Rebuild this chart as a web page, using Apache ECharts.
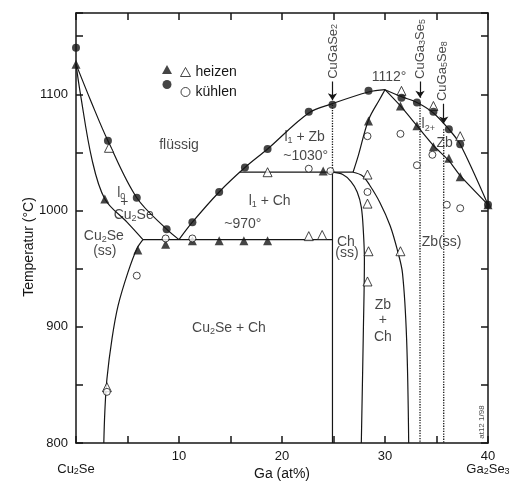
<!DOCTYPE html>
<html>
<head>
<meta charset="utf-8">
<script src="https://cdn.jsdelivr.net/npm/echarts@6/dist/echarts.min.js"></script>
<style>
html,body{margin:0;padding:0;background:#fff;}
#chart{width:510px;height:492px;}
</style>
</head>
<body>
<div id="chart"></div>
<script>
// ---------- data (Ga at%, temperature °C) ----------
const heizenFilled = [[0,1126],[2.8,1010],[6.0,966],[8.7,971],[11.3,974],[13.9,974],[16.3,974],[18.6,974],[24.0,1034],[28.4,1077],[31.5,1090],[33.1,1073],[34.7,1055],[36.2,1045],[37.3,1029],[40,1005]];
const heizenOpen = [[3.2,1054],[3.0,848],[18.6,1033],[22.6,978],[23.9,979],[28.3,1031],[28.3,1006],[28.4,965],[28.3,939],[31.5,965],[31.6,1103],[34.7,1090],[37.3,1064]];
const kuehlenFilled = [[0,1140],[3.1,1060],[5.9,1011],[8.8,984],[11.3,990],[13.9,1016],[16.4,1037],[18.6,1053],[22.6,1085],[24.9,1091],[28.4,1103],[31.6,1097],[33.1,1093],[34.7,1085],[36.2,1070],[37.3,1057],[40,1005]];
const kuehlenOpen = [[8.7,976],[11.3,976],[5.9,944],[3.0,844],[22.6,1036],[24.7,1034],[28.3,1016],[28.3,1064],[31.5,1066],[33.1,1039],[34.6,1048],[36.0,1005],[37.3,1002]];

// phase boundaries
const liquidusLeft = [[0,1126],[1.5,1093],[3.1,1060],[5.9,1011],[8.8,984],[10.0,975]];
const solidusLeft = [[0,1126],[0.4,1102],[1.55,1044],[2.8,1010],[4.95,990],[6.5,975]];
const solvusCu2Se = [[6.5,975],[5.9,967],[5.05,947],[4.08,918],[3.5,890],[3.0,855],[2.8,827],[2.7,800]];
const eutecticLine = [[6.5,975],[24.9,975]];
const liquidusRising = [[10.0,975],[11.3,990],[13.9,1016],[16.4,1037],[18.6,1053],[22.6,1084],[24.9,1092],[28.4,1102],[30.0,1104]];
const liquidusRight = [[30.0,1104],[31.6,1098],[33.1,1093],[34.7,1084],[36.2,1070],[37.3,1057],[40,1005]];
const solidusRight = [[30.0,1104],[31.5,1090],[33.1,1073],[34.7,1056],[36.2,1043],[37.3,1030],[40,1005]];
const zbLeftUpper = [[26.9,1033],[27.4,1047],[28.4,1078],[29.5,1096],[30.0,1104]];
const peritecticLine = [[15.9,1033],[26.9,1033]];
const chVertical = [[24.9,1033],[24.9,800]];
const chRight = [[24.9,1033],[25.9,1031],[26.7,1025],[27.3,1016],[27.7,1003],[27.9,982],[28.0,958],[27.9,897],[27.7,800]];
const zbLeft = [[26.9,1033],[27.8,1030],[28.5,1022],[29.5,1007],[30.5,987],[31.2,966],[31.7,946],[32.1,889],[32.3,800]];
const dotCuGaSe2 = [[24.9,1091],[24.9,1033]];
const dotCuGa3Se5 = [[33.4,1093],[33.4,800]];
const dotCuGa5Se8 = [[35.7,1070],[35.7,800]];
const arrowCuGaSe2 = [[24.9,1111],[24.9,1095]];
const arrowCuGa3Se5 = [[33.4,1111],[33.4,1097]];
const arrowCuGa5Se8 = [[35.7,1092],[35.7,1075]];

const xLabelValues = [0,10,20,30,40];
const yLabelValues = [800,900,1000,1100];

// ---------- annotations ----------
const annotations = [
  {t:'flüssig', at:[10.0,1056]},
  {t:'l_0', at:[4.4,1015]},
  {t:'+', at:[4.7,1007]},
  {t:'Cu_2Se', at:[5.6,996]},
  {t:'Cu_2Se', at:[2.7,978]},
  {t:'(ss)', at:[2.8,965]},
  {t:'~970°', at:[16.2,988]},
  {t:'l_1 + Ch', at:[18.8,1008]},
  {t:'l_1 + Zb', at:[22.2,1063]},
  {t:'~1030°', at:[22.3,1047]},
  {t:'1112°', at:[30.4,1115]},
  {t:'l_2_+', at:[34.2,1074]},
  {t:'Zb', at:[35.8,1058]},
  {t:'Ch', at:[26.2,973]},
  {t:'(ss)', at:[26.3,963]},
  {t:'Zb(ss)', at:[35.5,973]},
  {t:'Zb', at:[29.8,919]},
  {t:'+', at:[29.8,906]},
  {t:'Ch', at:[29.8,891]},
  {t:'Cu_2Se + Ch', at:[14.85,899]},
  {t:'CuGaSe_2', at:[24.95,1137], rot:90},
  {t:'CuGa_3Se_5', at:[33.4,1139], rot:90},
  {t:'CuGa_5Se_8', at:[35.6,1120], rot:90},
  {t:'at12 1/98', at:[39.4,818], rot:90, small:true}
];

// ---------- styling ----------
const BLACK = '#161616';
const FONT = '"Liberation Sans", Arial, sans-serif';
function rt(s, k) {
  const n = k || 'n', sub = (k === 'a') ? 'as' : 's';
  return s.split('\n').map(line => line.split(/(_\S)/).filter(Boolean)
    .map(t => t[0] === '_' ? '{' + sub + '|' + t[1] + '}' : '{' + n + '|' + t + '}').join('')).join('\n');
}
const rich = {
  n: {fontSize: 14, lineHeight: 16, color: BLACK, fontFamily: FONT},
  s: {fontSize: 9, lineHeight: 9, verticalAlign: 'bottom', color: BLACK, fontFamily: FONT},
  a: {fontSize: 13, lineHeight: 13, color: BLACK, fontFamily: FONT},
  as: {fontSize: 9, lineHeight: 9, verticalAlign: 'bottom', color: BLACK, fontFamily: FONT},
  m: {fontSize: 8, lineHeight: 9, color: BLACK, fontFamily: FONT}
};

function curve(data, smooth, dotted) {
  return {type: 'line', data: data, smooth: smooth, showSymbol: false, silent: true, z: 2,
    lineStyle: {color: BLACK, width: dotted ? 1.3 : 1.2, type: dotted ? 'dotted' : 'solid'}};
}
function arrow(coords) {
  return {type: 'lines', coordinateSystem: 'cartesian2d', silent: true, z: 3,
    symbol: ['none', 'arrow'], symbolSize: 7,
    lineStyle: {color: BLACK, width: 1.2, opacity: 1},
    data: [{coords: coords}]};
}

const chart = echarts.init(document.getElementById('chart'), null, {renderer: 'canvas'});
const axisCommon = {
  min: 0, max: 40, interval: 5,
  axisLine: {show: true, onZero: false, lineStyle: {color: BLACK, width: 1.5}},
  axisTick: {show: true, inside: true, length: 7, lineStyle: {color: BLACK, width: 1.5}},
  splitLine: {show: false}
};
const yCommon = {
  min: 800, max: 1170, interval: 50,
  axisLine: {show: true, onZero: false, lineStyle: {color: BLACK, width: 1.5}},
  axisTick: {show: true, inside: true, length: 7, lineStyle: {color: BLACK, width: 1.5}},
  splitLine: {show: false}
};

const option = {
  animation: false,
  backgroundColor: '#ffffff',
  grid: {left: 76, right: 22, top: 13, bottom: 49, containLabel: false, outerBoundsMode: 'none'},
  graphic: [{
    type: 'text', x: 29, y: 247, rotation: Math.PI / 2, silent: true,
    style: {text: 'Temperatur (°C)', fill: BLACK, font: '14px ' + FONT, align: 'center', verticalAlign: 'middle'}
  }],
  xAxis: [
    Object.assign({}, axisCommon, {
      type: 'value', position: 'bottom',
      name: 'Ga (at%)', nameLocation: 'middle', nameGap: 24, nameMoveOverlap: false,
      nameTextStyle: {fontSize: 14, color: BLACK, fontFamily: FONT},
      axisLabel: {
        margin: 7, lineHeight: 13, rich: rich, hideOverlap: false,
        formatter: function (v) {
          if (xLabelValues.indexOf(v) < 0) return '';
          if (v === 0) return '{a| }\n' + rt('Cu_2Se', 'a');
          if (v === 40) return '{a|40}\n' + rt('Ga_2Se_3', 'a');
          return '{a|' + v + '}';
        }
      }
    }),
    Object.assign({}, axisCommon, {type: 'value', position: 'top', axisLabel: {show: false}})
  ],
  yAxis: [
    Object.assign({}, yCommon, {
      type: 'value', position: 'left',
      axisLabel: {
        margin: 8, fontSize: 13, color: BLACK, fontFamily: FONT,
        formatter: function (v) { return yLabelValues.indexOf(v) >= 0 ? String(v) : ''; }
      }
    }),
    Object.assign({}, yCommon, {type: 'value', position: 'right', axisLabel: {show: false}})
  ],
  legend: [
    {
      orient: 'vertical', left: 157, top: 60, itemGap: 6, itemWidth: 10, itemHeight: 9,
      selectedMode: false, formatter: function () { return ''; },
      textStyle: {fontSize: 14, lineHeight: 14},
      data: [
        {name: 'heizen_f', icon: 'triangle', itemStyle: {color: BLACK, borderWidth: 0}},
        {name: 'kühlen_f', icon: 'circle', itemStyle: {color: BLACK, borderWidth: 0}}
      ]
    },
    {
      orient: 'vertical', left: 175, top: 60, itemGap: 6, itemWidth: 10, itemHeight: 9,
      selectedMode: false,
      textStyle: {fontSize: 14, lineHeight: 14, color: BLACK, fontFamily: FONT},
      data: [
        {name: 'heizen', icon: 'triangle', itemStyle: {color: '#fff', borderColor: BLACK, borderWidth: 1}},
        {name: 'kühlen', icon: 'circle', itemStyle: {color: '#fff', borderColor: BLACK, borderWidth: 1}}
      ]
    }
  ],
  series: [
    curve(liquidusLeft, 0.35),
    curve(solidusLeft, 0.35),
    curve(solvusCu2Se, 0.35),
    curve(eutecticLine, false),
    curve(liquidusRising, 0.35),
    curve(liquidusRight, 0.3),
    curve(solidusRight, 0.2),
    curve(zbLeftUpper, 0.35),
    curve(peritecticLine, false),
    curve(chVertical, false),
    curve(chRight, 0.35),
    curve(zbLeft, 0.35),
    curve(dotCuGaSe2, false, true),
    curve(dotCuGa3Se5, false, true),
    curve(dotCuGa5Se8, false, true),
    arrow(arrowCuGaSe2),
    arrow(arrowCuGa3Se5),
    arrow(arrowCuGa5Se8),
    {name: 'heizen_f', type: 'scatter', data: heizenFilled, symbol: 'triangle', symbolSize: 9, z: 5,
      itemStyle: {color: BLACK}},
    {name: 'heizen', type: 'scatter', data: heizenOpen, symbol: 'triangle', symbolSize: 9, z: 5,
      itemStyle: {color: '#fff', borderColor: BLACK, borderWidth: 1}},
    {name: 'kühlen_f', type: 'scatter', data: kuehlenFilled, symbol: 'circle', symbolSize: 8, z: 5,
      itemStyle: {color: BLACK}},
    {name: 'kühlen', type: 'scatter', data: kuehlenOpen, symbol: 'circle', symbolSize: 7, z: 5,
      itemStyle: {color: '#fff', borderColor: BLACK, borderWidth: 1}},
    {
      type: 'scatter', silent: true, z: 6, symbolSize: 0,
      itemStyle: {color: 'rgba(0,0,0,0)'},
      data: annotations.map(a => ({
        value: a.at,
        label: {
          show: true, position: 'inside', rotate: a.rot || 0, rich: rich,
          formatter: a.small ? '{m|' + a.t + '}' : rt(a.t, a.rot ? 'a' : 'n')
        }
      }))
    }
  ]
};
chart.setOption(option);
</script>
</body>
</html>
